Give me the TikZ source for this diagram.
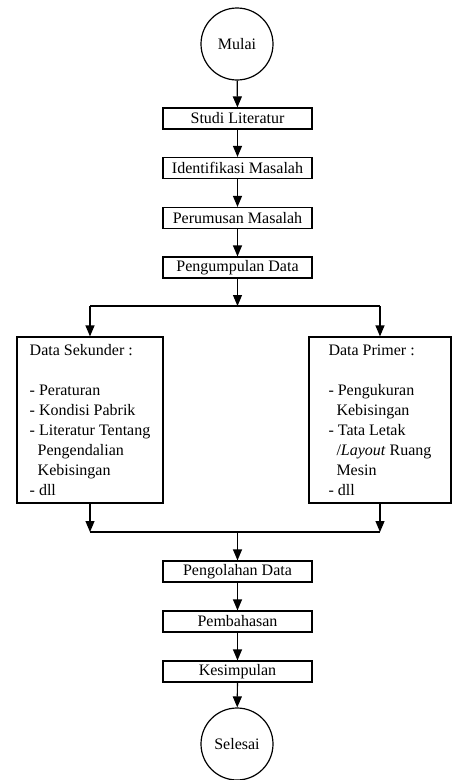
\documentclass[tikz,border=0pt]{standalone}
\usepackage{fontspec}
\setmainfont{Liberation Serif}
\usepackage{tikz}
\usetikzlibrary{%
  positioning,%
  arrows.meta%
}
\tikzset{
  every node/.style={font=\fontsize{16}{20}\selectfont},
  terminal/.style={draw, circle, line width=1.2pt, minimum size=72pt, inner sep=0pt},
  stepbox/.style={draw, rectangle, line width=1.2pt, minimum width=149pt, minimum height=21pt, inner sep=0pt},
  databox/.style={draw, rectangle, line width=1.2pt, minimum height=166pt, align=left, inner sep=0pt},
  flow/.style={line width=1.2pt, -{Triangle[length=11pt,width=9pt]}},
  plain/.style={line width=1.2pt}
}
\newcommand{\indt}{\hspace*{8pt}}

\begin{document}
\begin{tikzpicture}[x=1pt, y=-1pt]
\useasboundingbox (0,0) rectangle (452,780);
\node[terminal] (mulai) at (237,44) {Mulai};
\node[stepbox] (studi) at (237.5,118.5) {Studi Literatur};
\node[stepbox] (identifikasi) at (237.5,168) {Identifikasi Masalah};
\node[stepbox] (rumusan) at (237.5,218) {Perumusan Masalah};
\node[stepbox] (kumpul) at (237.5,267.5) {Pengumpulan Data};
\node[databox, minimum width=146pt] (sekunder) at (90,420)
  {Data Sekunder :\\[20pt]
   - Peraturan\\
   - Kondisi Pabrik\\
   - Literatur Tentang\\
   \indt Pengendalian\\
   \indt Kebisingan\\
   - dll};
\node[databox, minimum width=142pt] (primer) at (380,420)
  {Data Primer :\\[20pt]
   - Pengukuran\\
   \indt Kebisingan\\
   - Tata Letak\\
   \indt/\textit{Layout} Ruang\\
   \indt Mesin\\
   - dll};
\node[stepbox] (olah) at (237.5,571.5) {Pengolahan Data};
\node[stepbox] (bahas) at (237.5,621.5) {Pembahasan};
\node[stepbox] (simpul) at (237.5,671.5) {Kesimpulan};
\node[terminal] (selesai) at (237,744) {Selesai};

\coordinate (split) at (237.5,306);
\coordinate (splitL) at (sekunder |- split);
\coordinate (splitR) at (primer |- split);
\coordinate (join) at (237.5,532);
\coordinate (joinL) at (sekunder |- join);
\coordinate (joinR) at (primer |- join);

\draw
	(mulai) edge[flow] (studi)
	(studi) edge[flow] (identifikasi)
	(identifikasi) edge[flow] (rumusan)
	(rumusan) edge[flow] (kumpul)
	(kumpul) edge[flow] (split)
	(splitL) edge[plain] (splitR)
	(splitL) edge[flow] (sekunder)
	(splitR) edge[flow] (primer)
	(sekunder) edge[flow] (joinL)
	(primer) edge[flow] (joinR)
	(joinL) edge[plain] (joinR)
	(join) edge[flow] (olah)
	(olah) edge[flow] (bahas)
	(bahas) edge[flow] (simpul)
	(simpul) edge[flow] (selesai)
;
\end{tikzpicture}
\end{document}
